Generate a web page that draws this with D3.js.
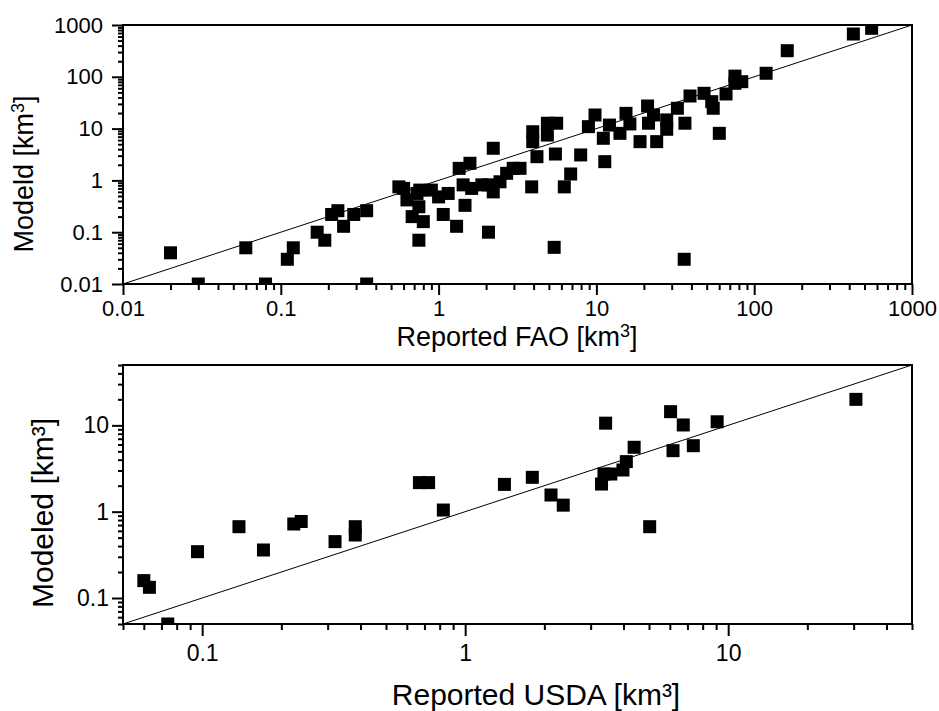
<!DOCTYPE html>
<html lang="en">
<head>
<meta charset="UTF-8">
<title>modeled-vs-reported</title>
<script src="https://cdn.jsdelivr.net/npm/d3@7"></script>
<style>
  body { margin: 0; background: #fff; }
  text { font-family: "Liberation Sans", Arial, Helvetica, sans-serif; fill: #000; }
  .domain { display: none; }
</style>
</head>
<body>
<script>
// reported FAO vs modeled (km3)
let faoReported = [0.02, 0.03, 0.06, 0.08, 0.11, 0.12, 0.17, 0.19, 0.21, 0.23, 0.25, 0.29, 0.35, 0.35,
  0.56, 0.6, 0.63, 0.68, 0.73, 0.75, 0.75, 0.8, 0.76, 0.9, 1.0, 1.07, 1.15, 1.3, 1.35, 1.47, 1.43,
  1.58, 1.62, 1.88, 2.07, 2.07, 2.22, 2.22, 2.45, 2.7, 2.97, 3.28, 3.89, 3.95, 3.95, 4.2, 4.89, 4.89,
  5.6, 5.5, 5.4, 6.26, 6.87, 7.95, 8.9, 9.8, 11.06, 11.3, 12.1, 14.1, 15.4, 16.3, 18.9, 21.1, 21.4,
  23, 24.1, 27.9, 27.9, 32.6, 36.4, 36, 39.2, 48.1, 53.8, 55, 60.1, 66.3, 75.5, 75.5, 83.4, 119, 162,
  425, 555];
let faoModeled = [0.04, 0.01, 0.05, 0.01, 0.03, 0.05, 0.1, 0.07, 0.22, 0.26, 0.13, 0.22, 0.26, 0.01,
  0.75, 0.7, 0.42, 0.2, 0.56, 0.31, 0.07, 0.16, 0.65, 0.65, 0.48, 0.22, 0.56, 0.13, 1.71, 0.33, 0.82,
  2.14, 0.7, 0.82, 0.1, 0.82, 4.17, 0.6, 0.94, 1.37, 1.71, 1.71, 0.75, 8.7, 5.6, 2.87, 12.7, 7.5,
  12.7, 3.23, 0.051, 0.75, 1.33, 3.1, 10.9, 18.3, 6.5, 2.3, 11.7, 8.1, 19.7, 12.3, 5.6, 27.3, 12.7,
  18.3, 5.6, 14.7, 9.7, 24.7, 12.7, 0.03, 42.6, 48, 33.1, 24.7, 8.1, 46.6, 103, 74.9, 80.5, 117, 319,
  670, 863];

// reported USDA vs modeled (km3)
let usdaReported = [0.06, 0.063, 0.074, 0.096, 0.138, 0.171, 0.223, 0.238, 0.32, 0.382, 0.382, 0.67,
  0.726, 0.826, 1.41, 1.8, 2.12, 2.36, 3.3, 3.42, 3.37, 3.58, 3.98, 4.1, 4.39, 5.03, 6.04, 6.17, 6.75,
  7.37, 9.08, 30.6];
let usdaModeled = [0.159, 0.133, 0.05, 0.344, 0.67, 0.36, 0.72, 0.77, 0.45, 0.67, 0.537, 2.17,
  2.17, 1.045, 2.07, 2.5, 1.56, 1.19, 2.09, 10.6, 2.73, 2.73, 3.04, 3.8, 5.57, 0.67, 14.4, 5.09, 10.1,
  5.81, 11.0, 20];

let faoTicks = [0.01, 0.1, 1, 10, 100, 1000];
let usdaXTicks = [0.1, 1, 10];
let usdaYTicks = [0.1, 1, 10];

let width = 939;
let height = 711;

let svg = d3.select('body')
  .append('svg')
  .attr('width', width)
  .attr('height', height);

function minorTicks(lo, hi) {
  let out = [];
  for (let e = Math.floor(Math.log10(lo)); e <= Math.ceil(Math.log10(hi)); e++) {
    for (let m = 1; m <= 9; m++) {
      let v = +(m * Math.pow(10, e)).toPrecision(3);
      if (v >= lo * 0.999 && v <= hi * 1.001) out.push(v);
    }
  }
  return out;
}

function fmt(d) {
  return d3.format('~g')(d);
}

function drawPanel(p) {
  let x = d3.scaleLog().domain(p.xDomain).range([p.left, p.right]);
  let y = d3.scaleLog().domain(p.yDomain).range([p.bottom, p.top]);
  let g = svg.append('g');

  g.append('clipPath').attr('id', p.id + '-clip')
    .append('rect')
    .attr('x', p.left).attr('y', p.top)
    .attr('width', p.right - p.left).attr('height', p.bottom - p.top);

  // 1:1 line
  g.append('line')
    .attr('x1', x(p.xDomain[0])).attr('y1', y(p.yDomain[0]))
    .attr('x2', x(p.xDomain[1])).attr('y2', y(p.yDomain[1]))
    .attr('stroke', '#000').attr('stroke-width', 1);

  let size = 13;
  g.append('g')
    .attr('clip-path', 'url(#' + p.id + '-clip)')
    .selectAll('rect')
    .data(p.xs.map((v, i) => [v, p.ys[i]]))
    .join('rect')
    .attr('x', d => x(d[0]) - size / 2)
    .attr('y', d => y(d[1]) - size / 2)
    .attr('width', size)
    .attr('height', size)
    .attr('fill', '#000');

  let xAxis = d3.axisBottom(x)
    .tickValues(minorTicks(p.xDomain[0], p.xDomain[1]))
    .tickSize(p.majorX)
    .tickPadding(p.padX)
    .tickFormat(d => p.xLabels.includes(d) ? fmt(d) : '');

  let ax = g.append('g')
    .attr('transform', 'translate(0,' + p.bottom + ')')
    .call(xAxis);
  ax.selectAll('.tick line')
    .attr('stroke-width', 2)
    .attr('y2', d => p.xLabels.includes(d) ? p.majorX : p.minorX);
  ax.selectAll('.tick text').attr('font-size', p.tickFont);

  let yAxis = d3.axisLeft(y)
    .tickValues(minorTicks(p.yDomain[0], p.yDomain[1]))
    .tickSize(p.majorY)
    .tickPadding(p.padY)
    .tickFormat(d => p.yLabels.includes(d) ? fmt(d) : '');

  let ay = g.append('g')
    .attr('transform', 'translate(' + p.left + ',0)')
    .call(yAxis);
  ay.selectAll('.tick line')
    .attr('stroke-width', 2)
    .attr('x2', d => p.yLabels.includes(d) ? -p.majorY : -p.minorY);
  ay.selectAll('.tick text').attr('font-size', p.tickFont);

  // frame
  g.append('rect')
    .attr('x', p.left).attr('y', p.top)
    .attr('width', p.right - p.left).attr('height', p.bottom - p.top)
    .attr('fill', 'none').attr('stroke', '#000').attr('stroke-width', 2);

  return g;
}

let topPanel = drawPanel({
  id: 'fao',
  left: 123, right: 912, top: 25, bottom: 284,
  xDomain: [0.01, 1000], yDomain: [0.01, 1000],
  xs: faoReported, ys: faoModeled,
  xLabels: faoTicks, yLabels: faoTicks,
  majorX: 11, minorX: 6, padX: 5,
  majorY: 11, minorY: 5, padY: 9,
  tickFont: 22
});

let bottomPanel = drawPanel({
  id: 'usda',
  left: 123, right: 912, top: 365, bottom: 624,
  xDomain: [0.05, 50], yDomain: [0.05, 50],
  xs: usdaReported, ys: usdaModeled,
  xLabels: usdaXTicks, yLabels: usdaYTicks,
  majorX: 12, minorX: 6, padX: 9,
  majorY: 11, minorY: 5, padY: 3,
  tickFont: 23
});

// axis titles
let t1 = topPanel.append('text')
  .attr('x', 517).attr('y', 346)
  .attr('text-anchor', 'middle')
  .attr('font-size', 27)
  .text('Reported FAO [km');
t1.append('tspan').attr('font-size', 18).attr('dy', -9).text('3');
t1.append('tspan').attr('dy', 9).text(']');

let t2 = topPanel.append('text')
  .attr('transform', 'translate(33,174) rotate(-90)')
  .attr('text-anchor', 'middle')
  .attr('font-size', 27)
  .text('Modeld [km');
t2.append('tspan').attr('font-size', 18).attr('dy', -9).text('3');
t2.append('tspan').attr('dy', 9).text(']');

bottomPanel.append('text')
  .attr('x', 536).attr('y', 705)
  .attr('text-anchor', 'middle')
  .attr('font-size', 30)
  .text('Reported USDA [km³]');

bottomPanel.append('text')
  .attr('transform', 'translate(53,513) rotate(-90)')
  .attr('text-anchor', 'middle')
  .attr('font-size', 30)
  .text('Modeled [km³]');
</script>
</body>
</html>
